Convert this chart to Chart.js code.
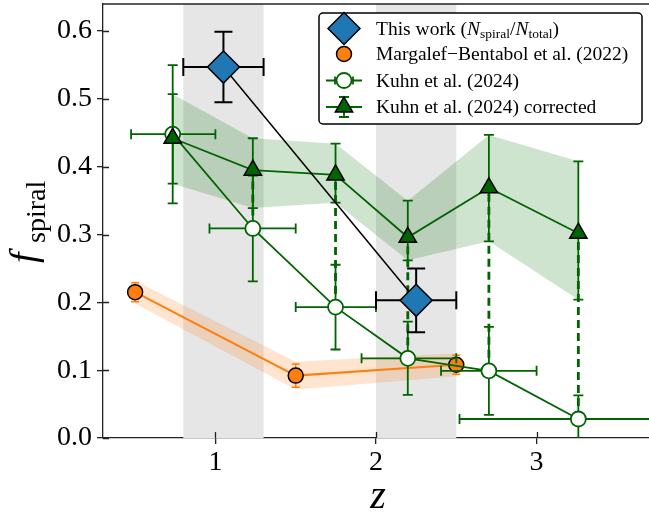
<!DOCTYPE html>
<html>
<head>
<meta charset="utf-8">
<script src="https://cdn.jsdelivr.net/npm/chart.js@4.4.1/dist/chart.umd.min.js"></script>
<style>
  html, body { margin: 0; padding: 0; background: #fff; overflow: hidden; }
  #wrap { width: 649px; height: 515px; }
</style>
</head>
<body>
<div id="wrap"><canvas id="fig" width="649" height="515"></canvas></div>
<script>
// grey redshift windows
const zWinLo = [0.8, 2.0];
const zWinHi = [1.3, 2.5];

// this work: N_spiral / N_total
const thisZ = [1.05, 2.25];
const thisZErr = [0.25, 0.25];
const thisF = [0.547, 0.203];
const thisFErr = [0.052, 0.047];

// Margalef-Bentabol et al. (2022)
const mbZ = [0.5, 1.5, 2.5];
const mbF = [0.215, 0.092, 0.108];
const mbErr = [0.014, 0.017, 0.014];

// Kuhn et al. (2024), raw and corrected
const kuhnZ = [0.734, 1.233, 1.748, 2.198, 2.703, 3.26];
const kuhnZLo = [0.475, 0.963, 1.5, 1.91, 2.405, 2.52];
const kuhnZHi = [1.0, 1.5, 2.0, 2.5, 3.0, 4.0];
const kuhnF = [0.448, 0.309, 0.193, 0.1175, 0.099, 0.028];
const kuhnErr = [0.102, 0.078, 0.0625, 0.054, 0.065, 0.035];
const kuhnCorrF = [0.442, 0.395, 0.388, 0.296, 0.369, 0.302];
const kuhnCorrErrLo = [0.067, 0.056, 0.041, 0.034, 0.079, 0.098];
const kuhnCorrErrHi = [0.065, 0.047, 0.046, 0.054, 0.078, 0.106];

const xTicks = [1, 2, 3];
const yTicks = [0.0, 0.1, 0.2, 0.3, 0.4, 0.5, 0.6];

const GREEN = '#006400';
const ORANGE = '#ff7f0e';
const BLUE = '#1f77b4';
const SPINE = '#222';
const SERIF = '"Liberation Serif", "DejaVu Serif", serif';

const pts = (xs, ys) => xs.map((x, i) => ({ x: x, y: ys[i] }));

// error bar helpers (pixel space)
function vErr(ctx, x, y0, y1, cap) {
  ctx.beginPath();
  ctx.moveTo(x, y0); ctx.lineTo(x, y1);
  ctx.moveTo(x - cap, y0); ctx.lineTo(x + cap, y0);
  ctx.moveTo(x - cap, y1); ctx.lineTo(x + cap, y1);
  ctx.stroke();
}
function hErr(ctx, y, x0, x1, cap) {
  ctx.beginPath();
  ctx.moveTo(x0, y); ctx.lineTo(x1, y);
  ctx.moveTo(x0, y - cap); ctx.lineTo(x0, y + cap);
  ctx.moveTo(x1, y - cap); ctx.lineTo(x1, y + cap);
  ctx.stroke();
}

const errorBars = {
  thisWork(ctx, sx, sy) {
    ctx.strokeStyle = '#000'; ctx.lineWidth = 2;
    thisZ.forEach((z, i) => {
      const px = sx.getPixelForValue(z), py = sy.getPixelForValue(thisF[i]);
      vErr(ctx, px, sy.getPixelForValue(thisF[i] - thisFErr[i]), sy.getPixelForValue(thisF[i] + thisFErr[i]), 9);
      hErr(ctx, py, sx.getPixelForValue(z - thisZErr[i]), sx.getPixelForValue(z + thisZErr[i]), 9);
    });
  },
  mb(ctx, sx, sy) {
    ctx.strokeStyle = ORANGE; ctx.lineWidth = 1.5;
    mbZ.forEach((z, i) => {
      vErr(ctx, sx.getPixelForValue(z), sy.getPixelForValue(mbF[i] - mbErr[i]), sy.getPixelForValue(mbF[i] + mbErr[i]), 4);
    });
  },
  kuhn(ctx, sx, sy) {
    // dashed link from raw to corrected value
    ctx.strokeStyle = GREEN; ctx.lineWidth = 2.8; ctx.setLineDash([8, 5]);
    kuhnZ.forEach((z, i) => {
      const px = sx.getPixelForValue(z);
      ctx.beginPath();
      ctx.moveTo(px, sy.getPixelForValue(kuhnF[i]));
      ctx.lineTo(px, sy.getPixelForValue(kuhnCorrF[i]));
      ctx.stroke();
    });
    ctx.setLineDash([]);
    ctx.lineWidth = 1.8;
    kuhnZ.forEach((z, i) => {
      const px = sx.getPixelForValue(z), py = sy.getPixelForValue(kuhnF[i]);
      vErr(ctx, px, sy.getPixelForValue(kuhnF[i] - kuhnErr[i]), sy.getPixelForValue(kuhnF[i] + kuhnErr[i]), 5);
      hErr(ctx, py, sx.getPixelForValue(kuhnZLo[i]), sx.getPixelForValue(kuhnZHi[i]), 5);
    });
  },
  kuhnCorr(ctx, sx, sy) {
    ctx.strokeStyle = GREEN; ctx.lineWidth = 1.8;
    kuhnZ.forEach((z, i) => {
      vErr(ctx, sx.getPixelForValue(z), sy.getPixelForValue(kuhnCorrF[i] - kuhnCorrErrLo[i]),
        sy.getPixelForValue(kuhnCorrF[i] + kuhnCorrErrHi[i]), 5);
    });
  }
};

const decorations = {
  id: 'decorations',
  beforeDatasetsDraw(chart) {
    const { ctx, chartArea: a, scales: { x } } = chart;
    ctx.save();
    ctx.fillStyle = '#e6e6e6';
    zWinLo.forEach((lo, i) => {
      const x0 = x.getPixelForValue(lo), x1 = x.getPixelForValue(zWinHi[i]);
      ctx.fillRect(x0, a.top, x1 - x0, a.bottom - a.top);
    });
    ctx.restore();
  },
  beforeDatasetDraw(chart, args) {
    const key = chart.data.datasets[args.index].errKey;
    if (!key) return;
    const { ctx, chartArea: a, scales: { x, y } } = chart;
    ctx.save();
    ctx.beginPath();
    ctx.rect(a.left, a.top, a.right - a.left, a.bottom - a.top);
    ctx.clip();
    errorBars[key](ctx, x, y);
    ctx.restore();
  },
  afterDatasetsDraw(chart) {
    // inner half of the ticks (ticks cross the spines)
    const { ctx, chartArea: a, scales: { x, y } } = chart;
    ctx.save();
    ctx.strokeStyle = SPINE; ctx.lineWidth = 1.3;
    ctx.beginPath();
    xTicks.forEach(v => {
      const px = Math.round(x.getPixelForValue(v)) + 0.5;
      ctx.moveTo(px, a.bottom); ctx.lineTo(px, a.bottom - 6);
    });
    yTicks.forEach(v => {
      const py = Math.round(y.getPixelForValue(v)) + 0.5;
      ctx.moveTo(a.left, py); ctx.lineTo(a.left + 6, py);
    });
    ctx.stroke();
    ctx.restore();
  },
  afterDraw(chart) {
    const { ctx, chartArea: a } = chart;
    ctx.save();
    // top spine
    ctx.strokeStyle = SPINE; ctx.lineWidth = 1.3;
    ctx.beginPath(); ctx.moveTo(a.left, a.top); ctx.lineTo(a.right + 2, a.top); ctx.stroke();

    // axis titles
    ctx.fillStyle = '#000';
    ctx.textBaseline = 'alphabetic';
    ctx.font = 'italic 40px ' + SERIF;
    ctx.textAlign = 'center';
    ctx.fillText('z', 378, 508);

    ctx.save();
    ctx.translate(36, 263);
    ctx.rotate(-Math.PI / 2);
    ctx.textAlign = 'left';
    ctx.font = 'italic 38px ' + SERIF;
    ctx.fillText('f', 0, 0);
    ctx.font = '28px ' + SERIF;
    ctx.fillText('spiral', 20, 9);
    ctx.restore();

    drawLegend(ctx);
    ctx.restore();
  }
};

function drawLegend(ctx) {
  const bx = 319, by = 13, bw = 323, bh = 111;
  ctx.fillStyle = '#fff';
  ctx.strokeStyle = '#000';
  ctx.lineWidth = 1.5;
  ctx.beginPath();
  ctx.roundRect(bx, by, bw, bh, 4);
  ctx.fill(); ctx.stroke();

  const mx = 344, tx = 376;
  const rows = [28.5, 54, 80.5, 107];

  // this work
  ctx.beginPath();
  ctx.moveTo(mx - 16, rows[0]); ctx.lineTo(mx, rows[0] - 16);
  ctx.lineTo(mx + 16, rows[0]); ctx.lineTo(mx, rows[0] + 16); ctx.closePath();
  ctx.fillStyle = BLUE; ctx.fill();
  ctx.strokeStyle = '#000'; ctx.lineWidth = 1.5; ctx.stroke();

  // Margalef-Bentabol
  ctx.beginPath(); ctx.arc(mx, rows[1], 7.5, 0, Math.PI * 2);
  ctx.fillStyle = ORANGE; ctx.fill(); ctx.stroke();

  // Kuhn raw
  ctx.strokeStyle = GREEN; ctx.lineWidth = 1.8;
  ctx.beginPath(); ctx.moveTo(mx - 18, rows[2]); ctx.lineTo(mx + 18, rows[2]); ctx.stroke();
  ctx.beginPath();
  ctx.moveTo(mx - 9, rows[2] - 4); ctx.lineTo(mx - 9, rows[2] + 4);
  ctx.moveTo(mx + 9, rows[2] - 4); ctx.lineTo(mx + 9, rows[2] + 4);
  ctx.stroke();
  ctx.beginPath(); ctx.arc(mx, rows[2], 7.5, 0, Math.PI * 2);
  ctx.fillStyle = '#fff'; ctx.fill(); ctx.lineWidth = 1.8; ctx.stroke();

  // Kuhn corrected
  ctx.lineWidth = 1.8;
  ctx.beginPath(); ctx.moveTo(mx - 18, rows[3]); ctx.lineTo(mx + 18, rows[3]); ctx.stroke();
  vErr(ctx, mx, rows[3] - 10, rows[3] + 10, 5);
  const r = 10;
  ctx.beginPath();
  ctx.moveTo(mx, rows[3] - r);
  ctx.lineTo(mx + r * 0.866, rows[3] + r / 2);
  ctx.lineTo(mx - r * 0.866, rows[3] + r / 2);
  ctx.closePath();
  ctx.fillStyle = GREEN; ctx.fill();
  ctx.strokeStyle = '#000'; ctx.lineWidth = 1.5; ctx.stroke();

  // labels
  ctx.fillStyle = '#000';
  ctx.textAlign = 'left';
  ctx.textBaseline = 'alphabetic';
  const base = 6;
  let x = tx;
  const put = (txt, font, dy) => {
    ctx.font = font;
    ctx.fillText(txt, x, rows[0] + base + dy);
    x += ctx.measureText(txt).width;
  };
  const rm = '19.5px ' + SERIF, it = 'italic 19.5px ' + SERIF, sub = '13.5px ' + SERIF;
  put('This work (', rm, 0);
  put('N', it, 0); put('spiral', sub, 3);
  put('/', rm, 0);
  put('N', it, 0); put('total', sub, 3);
  put(')', rm, 0);

  ctx.font = rm;
  ctx.fillText('Margalef\u2212Bentabol et al. (2022)', tx, rows[1] + base);
  ctx.fillText('Kuhn et al. (2024)', tx, rows[2] + base);
  ctx.fillText('Kuhn et al. (2024) corrected', tx, rows[3] + base);
}

// keep tick labels from pushing the plot area inwards
function noLabelPadding(s) {
  s._calculatePadding = function () {
    this.paddingLeft = 0; this.paddingRight = 0;
    this.paddingTop = 0; this.paddingBottom = 0;
  };
}

const tickFont = { family: SERIF, size: 28 };

new Chart(document.getElementById('fig'), {
  type: 'line',
  data: {
    datasets: [
      {
        data: pts(kuhnZ, kuhnCorrF.map((f, i) => f + kuhnCorrErrHi[i])),
        fill: '+1', backgroundColor: 'rgba(0,110,0,0.19)', borderWidth: 0, pointRadius: 0, order: 9
      },
      {
        data: pts(kuhnZ, kuhnCorrF.map((f, i) => f - kuhnCorrErrLo[i])),
        fill: false, borderWidth: 0, pointRadius: 0, order: 8
      },
      {
        data: pts(mbZ, mbF.map((f, i) => f + mbErr[i] * 1.2)),
        fill: '+1', backgroundColor: 'rgba(255,127,14,0.2)', borderWidth: 0, pointRadius: 0, order: 7
      },
      {
        data: pts(mbZ, mbF.map((f, i) => f - mbErr[i] * 1.2)),
        fill: false, borderWidth: 0, pointRadius: 0, order: 6
      },
      {
        label: 'Margalef\u2212Bentabol et al. (2022)', errKey: 'mb',
        data: pts(mbZ, mbF), borderColor: ORANGE, borderWidth: 2,
        pointStyle: 'circle', pointRadius: 7.5, pointBackgroundColor: ORANGE,
        pointBorderColor: '#000', pointBorderWidth: 1.5, order: 5
      },
      {
        label: 'Kuhn et al. (2024)', errKey: 'kuhn',
        data: pts(kuhnZ, kuhnF), borderColor: GREEN, borderWidth: 1.8,
        pointStyle: 'circle', pointRadius: 7.5, pointBackgroundColor: '#fff',
        pointBorderColor: GREEN, pointBorderWidth: 1.8, order: 4
      },
      {
        label: 'Kuhn et al. (2024) corrected', errKey: 'kuhnCorr',
        data: pts(kuhnZ, kuhnCorrF), borderColor: GREEN, borderWidth: 1.8,
        pointStyle: 'triangle', pointRadius: 10, pointBackgroundColor: GREEN,
        pointBorderColor: '#000', pointBorderWidth: 1.5, order: 3
      },
      {
        label: 'This work', errKey: 'thisWork',
        data: pts(thisZ, thisF), borderColor: '#000', borderWidth: 1.5,
        pointStyle: 'rectRot', pointRadius: 16, pointBackgroundColor: BLUE,
        pointBorderColor: '#000', pointBorderWidth: 1.5, order: 1
      }
    ]
  },
  options: {
    responsive: false,
    animation: false,
    events: [],
    clip: false,
    layout: { autoPadding: false, padding: { top: 4, right: 0, left: 0, bottom: 0 } },
    elements: { line: { tension: 0 } },
    plugins: { legend: { display: false }, tooltip: { enabled: false } },
    scales: {
      x: {
        type: 'linear', min: 0.3, max: 3.7,
        beforeUpdate: noLabelPadding,
        afterFit: s => { s.height = 77; },
        afterBuildTicks: s => { s.ticks = xTicks.map(v => ({ value: v })); },
        grid: { drawOnChartArea: false, drawTicks: true, tickLength: 6, color: SPINE, lineWidth: 1.3 },
        border: { display: true, color: SPINE, width: 1.3 },
        ticks: { color: '#000', font: tickFont, padding: 2, maxRotation: 0, callback: v => String(v) }
      },
      y: {
        type: 'linear', min: 0, max: 0.64,
        beforeUpdate: noLabelPadding,
        afterFit: s => { s.width = 103; },
        afterBuildTicks: s => { s.ticks = yTicks.map(v => ({ value: v })); },
        grid: { drawOnChartArea: false, drawTicks: true, tickLength: 6, color: SPINE, lineWidth: 1.3 },
        border: { display: true, color: SPINE, width: 1.3 },
        ticks: { color: '#000', font: tickFont, padding: 5, callback: v => v.toFixed(1) }
      }
    }
  },
  plugins: [decorations]
});
</script>
</body>
</html>
